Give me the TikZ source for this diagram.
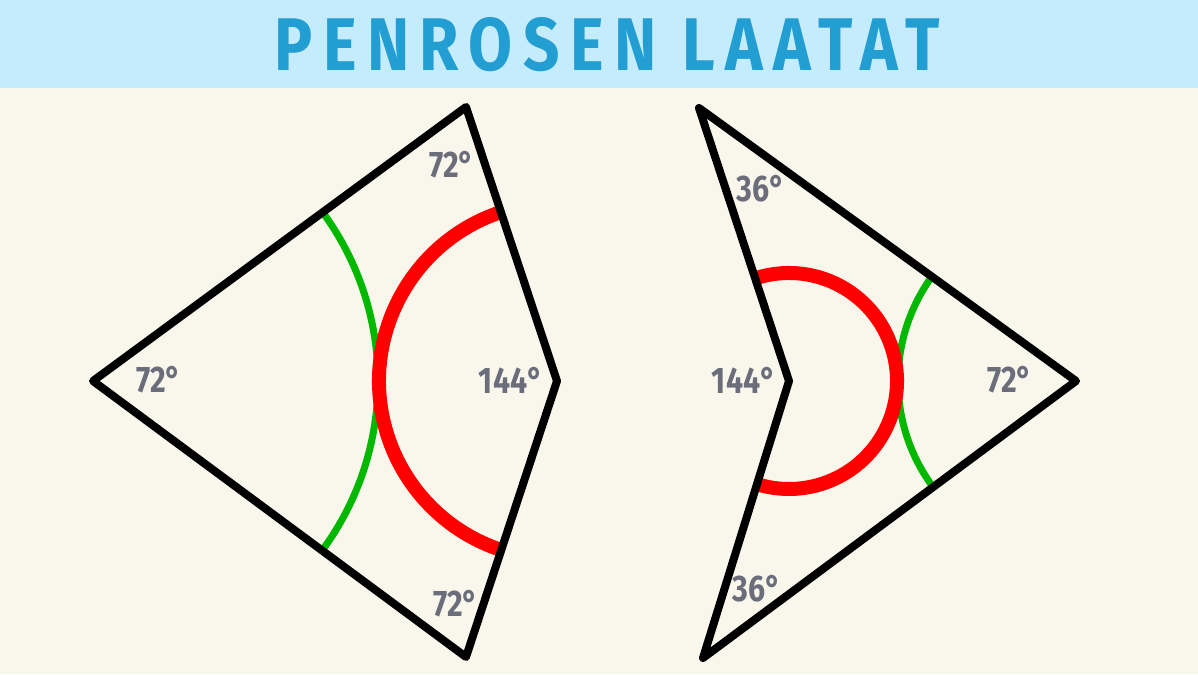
\documentclass[tikz,border=0pt]{standalone}
\usepackage{fontspec}
\setmainfont{Fira Sans}
\newfontfamily\titlefont[LetterSpace=14,FakeStretch=0.85]{Fira Sans}
\newfontfamily\anglefont[FakeStretch=0.82]{Fira Sans}
\usepackage{graphicx}

\definecolor{bandblue}{HTML}{C5ECFD}
\definecolor{titleblue}{HTML}{229ED3}
\definecolor{paper}{HTML}{F9F7EC}
\definecolor{anglegray}{HTML}{6B6E7A}
\definecolor{arcred}{HTML}{FF0000}
\definecolor{arcgreen}{HTML}{00B800}

\tikzset{
  tile/.style={draw=black,line width=8pt,line join=round},
  redarc/.style={draw=arcred,line width=14pt},
  greenarc/.style={draw=arcgreen,line width=7pt},
  angle/.style={text=anglegray,font=\anglefont\bfseries\fontsize{37}{37}\selectfont,inner sep=0pt}
}

\begin{document}
\begin{tikzpicture}[x=1pt,y=1pt]
\useasboundingbox (0,0) rectangle (1198,674);
\fill[paper] (0,0) rectangle (1198,674);
\fill[bandblue] (0,586) rectangle (1198,674);
\draw (607,629) node (title)
  {\resizebox{665pt}{53pt}{\titlefont\bfseries\color{titleblue}PENROSEN\hspace{0.35em}LAATAT}};
%
% kite
\coordinate (kiteL) at (93,293);
\coordinate (kiteT) at (466,567);
\coordinate (kiteR) at (557,293);
\coordinate (kiteB) at (466,17);
\path[greenarc] (kiteL) ++(-36.3:285pt) arc[start angle=-36.3,end angle=36.3,radius=285pt];
\path[redarc] (kiteR) ++(108.4:178pt) arc[start angle=108.4,end angle=251.6,radius=178pt];
\path[tile] (kiteL) -- (kiteT) -- (kiteR) -- (kiteB) -- cycle;
\draw (159,294) node[angle] (kiteAngleL) {72°};
\draw (452,509) node[angle] (kiteAngleT) {72°};
\draw (511,294) node[angle] (kiteAngleR) {144°};
\draw (456,70) node[angle] (kiteAngleB) {72°};
%
% dart
\coordinate (dartT) at (699,566);
\coordinate (dartI) at (789,293);
\coordinate (dartR) at (1076,293);
\coordinate (dartB) at (703,16);
\path[greenarc] (dartR) ++(144:178pt) arc[start angle=144,end angle=216,radius=178pt];
\path[redarc] (dartI) ++(108:108pt) arc[start angle=108,end angle=-108,radius=108pt];
\path[tile] (dartT) -- (dartI) -- (dartB) -- (dartR) -- cycle;
\draw (761,485) node[angle] (dartAngleT) {36°};
\draw (744,294) node[angle] (dartAngleI) {144°};
\draw (757,85) node[angle] (dartAngleB) {36°};
\draw (1010,294) node[angle] (dartAngleR) {72°};
\end{tikzpicture}
\end{document}
